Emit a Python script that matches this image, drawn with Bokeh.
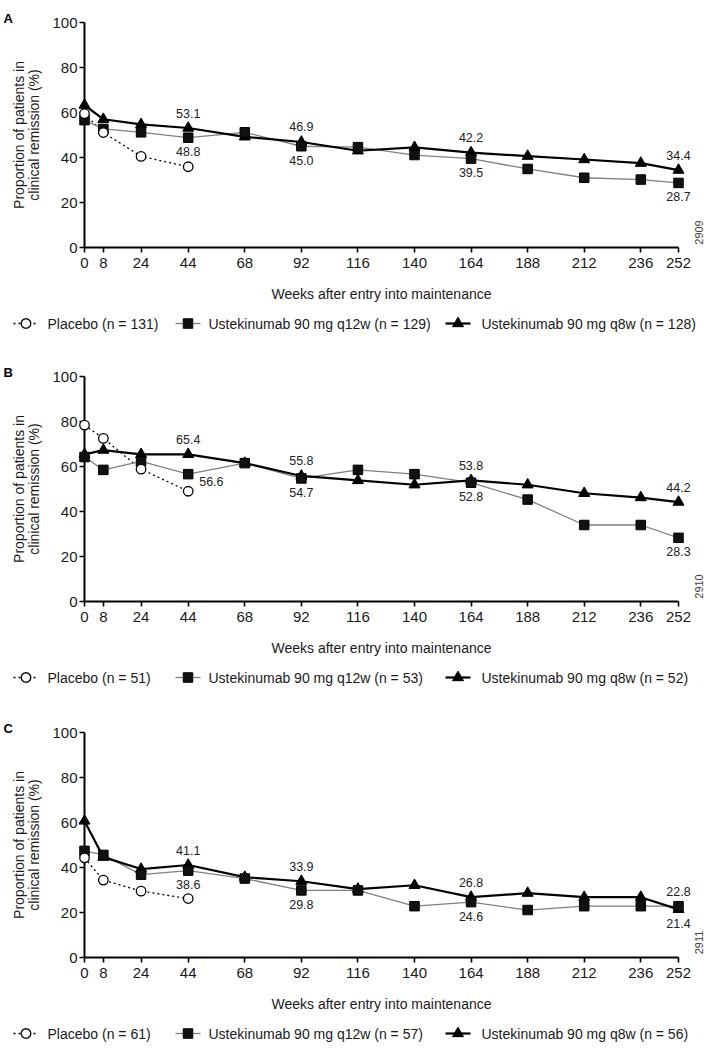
import math
from bokeh.plotting import figure
from bokeh.models import Range1d, FixedTicker
from bokeh.layouts import column
from bokeh.embed import file_html
from bokeh.resources import INLINE
from bokeh.core.properties import value

# ---------------- data ----------------
weeks = [0, 8, 24, 44, 68, 92, 116, 140, 164, 188, 212, 236, 252]
placebo_weeks = [0, 8, 24, 44]
x_ticks = [0, 8, 24, 44, 68, 92, 116, 140, 164, 188, 212, 236, 252]
y_ticks = [0, 20, 40, 60, 80, 100]

a_placebo = [59.5, 51.1, 40.5, 35.9]
a_q12w = [56.6, 52.7, 51.2, 48.8, 51.2, 45.0, 44.6, 41.1, 39.5, 34.9, 31.0, 30.2, 28.7]
a_q8w = [63.3, 57.0, 54.7, 53.1, 49.2, 46.9, 43.0, 44.5, 42.2, 40.6, 39.1, 37.5, 34.4]
a_legend = ["Placebo (n = 131)", "Ustekinumab 90 mg q12w (n = 129)", "Ustekinumab 90 mg q8w (n = 128)"]

b_placebo = [78.4, 72.5, 58.8, 49.0]
b_q12w = [64.2, 58.5, 62.3, 56.6, 61.5, 54.7, 58.5, 56.6, 52.8, 45.3, 34.0, 34.0, 28.3]
b_q8w = [65.4, 67.3, 65.4, 65.4, 61.5, 55.8, 53.8, 51.9, 53.8, 51.9, 48.1, 46.2, 44.2]
b_legend = ["Placebo (n = 51)", "Ustekinumab 90 mg q12w (n = 53)", "Ustekinumab 90 mg q8w (n = 52)"]

c_placebo = [44.3, 34.4, 29.5, 26.2]
c_q12w = [47.4, 45.6, 36.8, 38.6, 35.1, 29.8, 29.8, 22.8, 24.6, 21.1, 22.8, 22.8, 22.8]
c_q8w = [60.7, 44.6, 39.3, 41.1, 35.7, 33.9, 30.4, 32.1, 26.8, 28.6, 26.8, 26.8, 21.4]
c_legend = ["Placebo (n = 61)", "Ustekinumab 90 mg q12w (n = 57)", "Ustekinumab 90 mg q8w (n = 56)"]

panel_letters = ["A", "B", "C"]
panel_ids = ["2909", "2910", "2911"]
y_title_lines = ["Proportion of patients in", "clinical remission (%)"]
x_title = "Weeks after entry into maintenance"

# annotated points: (series, week, placement)
a_annots = [("q8w", 44, "above"), ("q12w", 44, "below"), ("q8w", 92, "above"), ("q12w", 92, "below"),
            ("q8w", 164, "above"), ("q12w", 164, "below"), ("q8w", 252, "above"), ("q12w", 252, "below")]
b_annots = [("q8w", 44, "above"), ("q12w", 44, "right"), ("q8w", 92, "above"), ("q12w", 92, "below"),
            ("q8w", 164, "above"), ("q12w", 164, "below"), ("q8w", 252, "above"), ("q12w", 252, "below")]
c_annots = [("q8w", 44, "above"), ("q12w", 44, "below"), ("q8w", 92, "above"), ("q12w", 92, "below"),
            ("q8w", 164, "above"), ("q12w", 164, "below"), ("q12w", 252, "above"), ("q8w", 252, "below")]

# ---------------- layout / styling ----------------
FONT = "Liberation Sans"
TXT = "#1a1a1a"
W = 704
LEFT = 84
RIGHT = 26
TOP = 22
FRAME_W = W - LEFT - RIGHT
FRAME_H = 225
X0, X1 = 0, 252
Y0, Y1 = 0, 100
PX_X = FRAME_W / (X1 - X0)   # pixels per week
PX_Y = FRAME_H / (Y1 - Y0)   # pixels per percent

# legend layout in pixels (relative to figure left) and distance below the frame
LEG_GLYPH_X = [13, 175, 445]
LEG_TEXT_X = [47, 208, 481]
LEG_GLYPH_W = 25
LEG_DY = 76

SQ_SIZE = 9.5
TRI_SIZE = 11
CIR_SIZE = 9.5


def px_to_x(fx):
    return X0 + (fx - LEFT) / PX_X


def marker_poly(cx, cy, shape):
    """polygon (data units) of a marker centred at data (cx, cy), sized in pixels"""
    if shape == "square":
        h = SQ_SIZE / 2
        pts = [(-h, -h), (h, -h), (h, h), (-h, h)]
    elif shape == "triangle":
        r = TRI_SIZE / 2
        hh = r * math.sqrt(3)
        a = hh / 3
        pts = [(-r, a), (r, a), (0, a - hh)]
    else:
        r = CIR_SIZE / 2
        pts = [(r * math.cos(2 * math.pi * k / 36), r * math.sin(2 * math.pi * k / 36)) for k in range(36)]
    xs = [cx + dx / PX_X for dx, dy in pts]
    ys = [cy - dy / PX_Y for dx, dy in pts]
    return xs, ys


def make_panel(letter, ident, placebo, q12w, q8w, legend_labels, annots, height):
    p = figure(width=W, height=height, x_range=Range1d(X0, X1), y_range=Range1d(Y0, Y1),
               output_backend="svg", toolbar_location=None,
               min_border_left=LEFT, min_border_right=RIGHT, min_border_top=TOP,
               min_border_bottom=height - TOP - FRAME_H)
    p.outline_line_color = None
    p.grid.visible = False
    p.background_fill_color = "white"
    p.border_fill_color = "white"
    for ax in (p.xaxis[0], p.yaxis[0]):
        ax.axis_line_width = 2
        ax.axis_line_color = "black"
        ax.major_tick_line_width = 1.6
        ax.major_tick_line_color = "black"
        ax.major_tick_out = 5
        ax.major_tick_in = 0
        ax.minor_tick_line_color = None
        ax.major_label_text_font = FONT
        ax.major_label_text_font_size = "15px"
        ax.major_label_text_color = TXT
    p.xaxis.major_label_standoff = 5
    p.yaxis.major_label_standoff = 2
    p.xaxis.ticker = FixedTicker(ticks=x_ticks)
    p.yaxis.ticker = FixedTicker(ticks=y_ticks)

    sty_pl_line = dict(line_color="black", line_width=1.3, line_dash="2 3")
    sty_12_line = dict(line_color="#808080", line_width=1.3)
    sty_8_line = dict(line_color="black", line_width=2.2)
    sty_pl_fill = dict(fill_color="white", line_color="black", line_width=1.3)
    sty_12_fill = dict(fill_color="#111111", line_color="black", line_width=1)
    sty_8_fill = dict(fill_color="black", line_color="black", line_width=1)

    # series
    p.line(placebo_weeks, placebo, level="overlay", **sty_pl_line)
    p.line(weeks, q12w, level="overlay", **sty_12_line)
    p.line(weeks, q8w, level="overlay", **sty_8_line)
    p.scatter(weeks, q8w, marker="triangle", size=TRI_SIZE, level="overlay", **sty_8_fill)
    p.scatter(weeks, q12w, marker="square", size=SQ_SIZE, level="overlay", **sty_12_fill)
    p.scatter(placebo_weeks, placebo, marker="circle", size=CIR_SIZE, level="overlay", **sty_pl_fill)

    # value annotations
    series = {"q12w": q12w, "q8w": q8w}
    offsets = {"above": (0, -15, "center"), "below": (0, 14, "center"), "right": (11, 7, "left")}
    for place, (dx, dy, align) in offsets.items():
        xs, ys, ts = [], [], []
        for s, wk, pl in annots:
            if pl != place:
                continue
            v = series[s][weeks.index(wk)]
            xs.append(wk)
            ys.append(v)
            ts.append(f"{v:.1f}")
        if xs:
            p.text(xs, ys, text=ts, x_offset=dx, y_offset=dy, text_align=align, text_baseline="middle",
                   text_font=value(FONT), text_font_size="12.5px", text_color="#222222", level="overlay")

    # panel letter
    p.text([X0], [Y1], text=[letter], x_offset=-81, y_offset=-4, text_align="left",
           text_baseline="alphabetic", text_font=value(FONT), text_font_style="bold",
           text_font_size="13px", text_color="black", level="overlay")
    # y title (two lines)
    for i, line in enumerate(y_title_lines):
        p.text([X0], [(Y0 + Y1) / 2], text=[line], x_offset=-66 + 15 * i, angle=math.pi / 2,
               text_align="center", text_baseline="middle", text_font=value(FONT),
               text_font_size="14px", text_color=TXT, level="overlay")
    # x title
    p.text([(X0 + X1) / 2], [Y0], text=[x_title], y_offset=46, text_align="center",
           text_baseline="middle", text_font=value(FONT), text_font_size="14px", text_color=TXT,
           level="overlay")
    # figure id
    p.text([X1], [Y0], text=[ident], x_offset=20, y_offset=-15, angle=math.pi / 2, text_align="center",
           text_baseline="middle", text_font=value(FONT), text_font_size="11px", text_color="#444444",
           level="overlay")

    # legend (drawn below the axis)
    ly = Y0 - LEG_DY / PX_Y
    line_styles = [sty_pl_line, sty_12_line, sty_8_line]
    fill_styles = [sty_pl_fill, sty_12_fill, sty_8_fill]
    shapes = ["circle", "square", "triangle"]
    for i in range(3):
        gx0 = px_to_x(LEG_GLYPH_X[i])
        gx1 = px_to_x(LEG_GLYPH_X[i] + LEG_GLYPH_W)
        p.line([gx0, gx1], [ly, ly], level="overlay", **line_styles[i])
        mx, my = marker_poly((gx0 + gx1) / 2, ly, shapes[i])
        p.patch(mx, my, level="overlay", **fill_styles[i])
        p.text([px_to_x(LEG_TEXT_X[i])], [ly], text=[legend_labels[i]], text_align="left",
               text_baseline="middle", text_font=value(FONT), text_font_size="14px", text_color=TXT,
               level="overlay")
    return p


pA = make_panel(panel_letters[0], panel_ids[0], a_placebo, a_q12w, a_q8w, a_legend, a_annots, 354)
pB = make_panel(panel_letters[1], panel_ids[1], b_placebo, b_q12w, b_q8w, b_legend, b_annots, 356)
pC = make_panel(panel_letters[2], panel_ids[2], c_placebo, c_q12w, c_q8w, c_legend, c_annots, 340)

layout = column(pA, pB, pC, spacing=0)
open("out.html", "w").write(file_html(layout, INLINE))
